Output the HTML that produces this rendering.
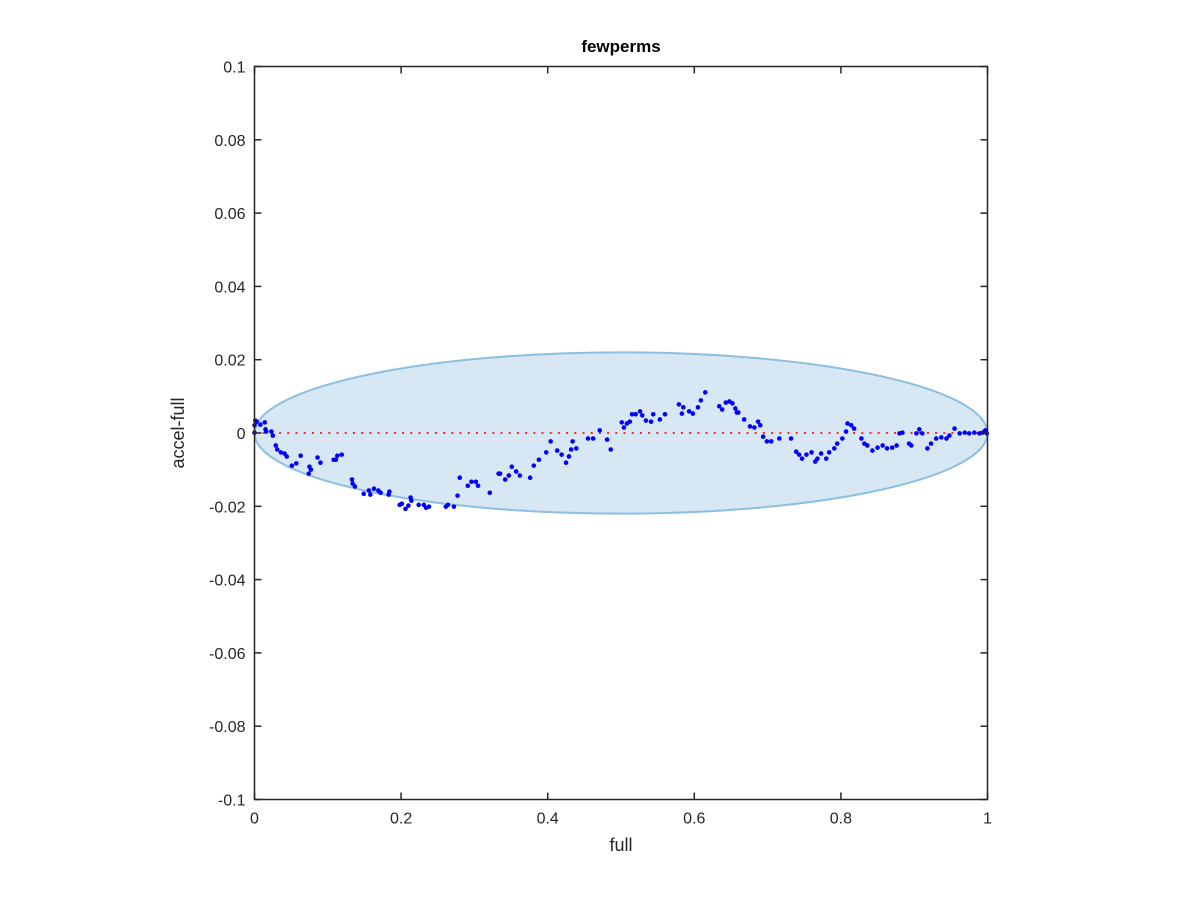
<!DOCTYPE html>
<html><head><meta charset="utf-8"><style>
html,body{margin:0;padding:0;background:#fff;}
svg{display:block;font-family:"Liberation Sans",Helvetica,Arial,sans-serif;}
</style></head><body>
<svg id="chart" width="1200" height="900" viewBox="0 0 1200 900" xmlns="http://www.w3.org/2000/svg">
<rect width="1200" height="900" fill="#fff"/>
<g id="plot"></g>
</svg>
<script>
const xTicks=[0,0.2,0.4,0.6,0.8,1];
const xTickLabels=["0","0.2","0.4","0.6","0.8","1"];
const yTicks=[0.1,0.08,0.06,0.04,0.02,0,-0.02,-0.04,-0.06,-0.08,-0.1];
const yTickLabels=["0.1","0.08","0.06","0.04","0.02","0","-0.02","-0.04","-0.06","-0.08","-0.1"];
const ellipseCenter=[0.5,0];
const ellipseRadii=[0.5,0.022];
const xs=[0,0,0.001,0.003,0.008,0.014,0.015,0.016,0.023,0.025,0.029,0.031,0.036,0.041,0.044,0.051,0.057,0.063,0.075,0.077,0.074,0.086,0.090,0.108,0.111,0.113,0.119,0.133,0.134,0.137,0.149,0.156,0.158,0.163,0.169,0.172,0.183,0.184,0.198,0.201,0.206,0.210,0.213,0.214,0.224,0.231,0.234,0.238,0.261,0.264,0.272,0.277,0.280,0.291,0.296,0.302,0.305,0.321,0.333,0.335,0.342,0.347,0.351,0.357,0.362,0.376,0.381,0.388,0.398,0.404,0.413,0.419,0.425,0.429,0.432,0.434,0.439,0.455,0.462,0.471,0.481,0.486,0.501,0.504,0.508,0.512,0.515,0.520,0.526,0.529,0.534,0.541,0.544,0.553,0.560,0.579,0.583,0.585,0.593,0.598,0.605,0.609,0.615,0.634,0.638,0.643,0.648,0.652,0.656,0.658,0.660,0.668,0.676,0.682,0.687,0.690,0.694,0.699,0.705,0.716,0.732,0.739,0.743,0.747,0.753,0.760,0.765,0.768,0.773,0.780,0.784,0.791,0.795,0.802,0.807,0.809,0.814,0.818,0.828,0.832,0.836,0.843,0.850,0.857,0.863,0.870,0.876,0.880,0.884,0.893,0.896,0.903,0.907,0.911,0.918,0.923,0.930,0.937,0.944,0.948,0.955,0.962,0.969,0.975,0.982,0.989,0.993,0.997,0.999];
const ys=[0.0001,0.0021,0.0034,0.0031,0.0023,0.0029,0.0010,0.0004,0.0004,-0.0007,-0.0034,-0.0045,-0.0053,-0.0056,-0.0064,-0.0089,-0.0083,-0.0062,-0.0092,-0.0100,-0.0111,-0.0067,-0.0081,-0.0073,-0.0073,-0.0062,-0.0059,-0.0127,-0.0138,-0.0146,-0.0166,-0.0157,-0.0168,-0.0152,-0.0157,-0.0163,-0.0168,-0.0160,-0.0196,-0.0193,-0.0207,-0.0198,-0.0176,-0.0185,-0.0196,-0.0196,-0.0204,-0.0201,-0.0201,-0.0196,-0.0201,-0.0171,-0.0122,-0.0144,-0.0133,-0.0133,-0.0144,-0.0163,-0.0111,-0.0111,-0.0127,-0.0116,-0.0092,-0.0105,-0.0116,-0.0122,-0.0089,-0.0073,-0.0053,-0.0023,-0.0048,-0.0059,-0.0081,-0.0064,-0.0045,-0.0023,-0.0042,-0.0015,-0.0015,0.0007,-0.0018,-0.0045,0.0029,0.0015,0.0026,0.0031,0.0051,0.0051,0.0059,0.0048,0.0034,0.0031,0.0051,0.0037,0.0051,0.0078,0.0053,0.0070,0.0059,0.0053,0.0070,0.0089,0.0111,0.0073,0.0064,0.0083,0.0086,0.0081,0.0067,0.0056,0.0056,0.0037,0.0018,0.0015,0.0031,0.0021,-0.0010,-0.0023,-0.0023,-0.0015,-0.0015,-0.0051,-0.0059,-0.0070,-0.0059,-0.0053,-0.0078,-0.0070,-0.0056,-0.0070,-0.0053,-0.0042,-0.0029,-0.0015,0.0004,0.0026,0.0021,0.0012,-0.0015,-0.0029,-0.0034,-0.0048,-0.0040,-0.0034,-0.0042,-0.0040,-0.0034,-0.0001,0.0001,-0.0029,-0.0034,-0.0001,0.0010,-0.0001,-0.0042,-0.0029,-0.0015,-0.0012,-0.0015,-0.0007,0.0012,-0.0001,0.0001,-0.0001,0.0001,-0.0001,0.0001,0.0007,-0.0001];

const L=254.5,R=987.5,T=66.5,B=799.5;
const sx=v=>L+(v-0)/(1-0)*(R-L);
const sy=v=>B-(v-(-0.1))/(0.2)*(B-T);
const NS="http://www.w3.org/2000/svg";
const g=document.getElementById('plot');
function mk(tag,attrs,parent){const e=document.createElementNS(NS,tag);for(const k in attrs)e.setAttribute(k,attrs[k]);(parent||g).appendChild(e);return e;}

const ell=mk('ellipse',{cx:sx(ellipseCenter[0]),cy:sy(ellipseCenter[1]),rx:sx(ellipseRadii[0])-sx(0),ry:sy(0)-sy(ellipseRadii[1]),fill:'#d7e7f3',stroke:'#8cbfe0','stroke-width':2});



const zl=mk('line',{x1:sx(0),x2:sx(1),y1:sy(0),y2:sy(0),stroke:'#ff2a2a','stroke-width':2,'stroke-dasharray':'2 6.2'});



for(let i=0;i<xs.length;i++){
  const c=mk('circle',{cx:sx(xs[i]),cy:sy(ys[i]),r:2.3,fill:'#0000ff'});
  
  
}

const box=mk('rect',{x:L,y:T,width:R-L,height:B-T,fill:'none',stroke:'#262626','stroke-width':1.5});



xTicks.forEach((v,i)=>{
  const x=sx(v);
  mk('line',{x1:x,x2:x,y1:B,y2:B-7,stroke:'#262626','stroke-width':1.5});
  mk('line',{x1:x,x2:x,y1:T,y2:T+7,stroke:'#262626','stroke-width':1.5});
  const t=mk('text',{x:x,y:B+24,'text-anchor':'middle','font-size':16,fill:'#262626'});
  t.textContent=xTickLabels[i];
  
  
});
yTicks.forEach((v,i)=>{
  const y=sy(v);
  mk('line',{x1:L,x2:L+7,y1:y,y2:y,stroke:'#262626','stroke-width':1.5});
  mk('line',{x1:R,x2:R-7,y1:y,y2:y,stroke:'#262626','stroke-width':1.5});
  const t=mk('text',{x:L-9,y:y+6,'text-anchor':'end','font-size':16,fill:'#262626'});
  t.textContent=yTickLabels[i];
  
  
});

const title=mk('text',{x:(L+R)/2,y:52,'text-anchor':'middle','font-size':17,'font-weight':'bold',fill:'#000'});
title.textContent='fewperms';



const xl=mk('text',{x:(L+R)/2,y:851,'text-anchor':'middle','font-size':18,fill:'#262626'});
xl.textContent='full';



const yl=mk('text',{x:0,y:0,'text-anchor':'middle','font-size':18,fill:'#262626',transform:`translate(184,${(T+B)/2}) rotate(-90)`});
yl.textContent='accel-full';


</script>
</body></html>
